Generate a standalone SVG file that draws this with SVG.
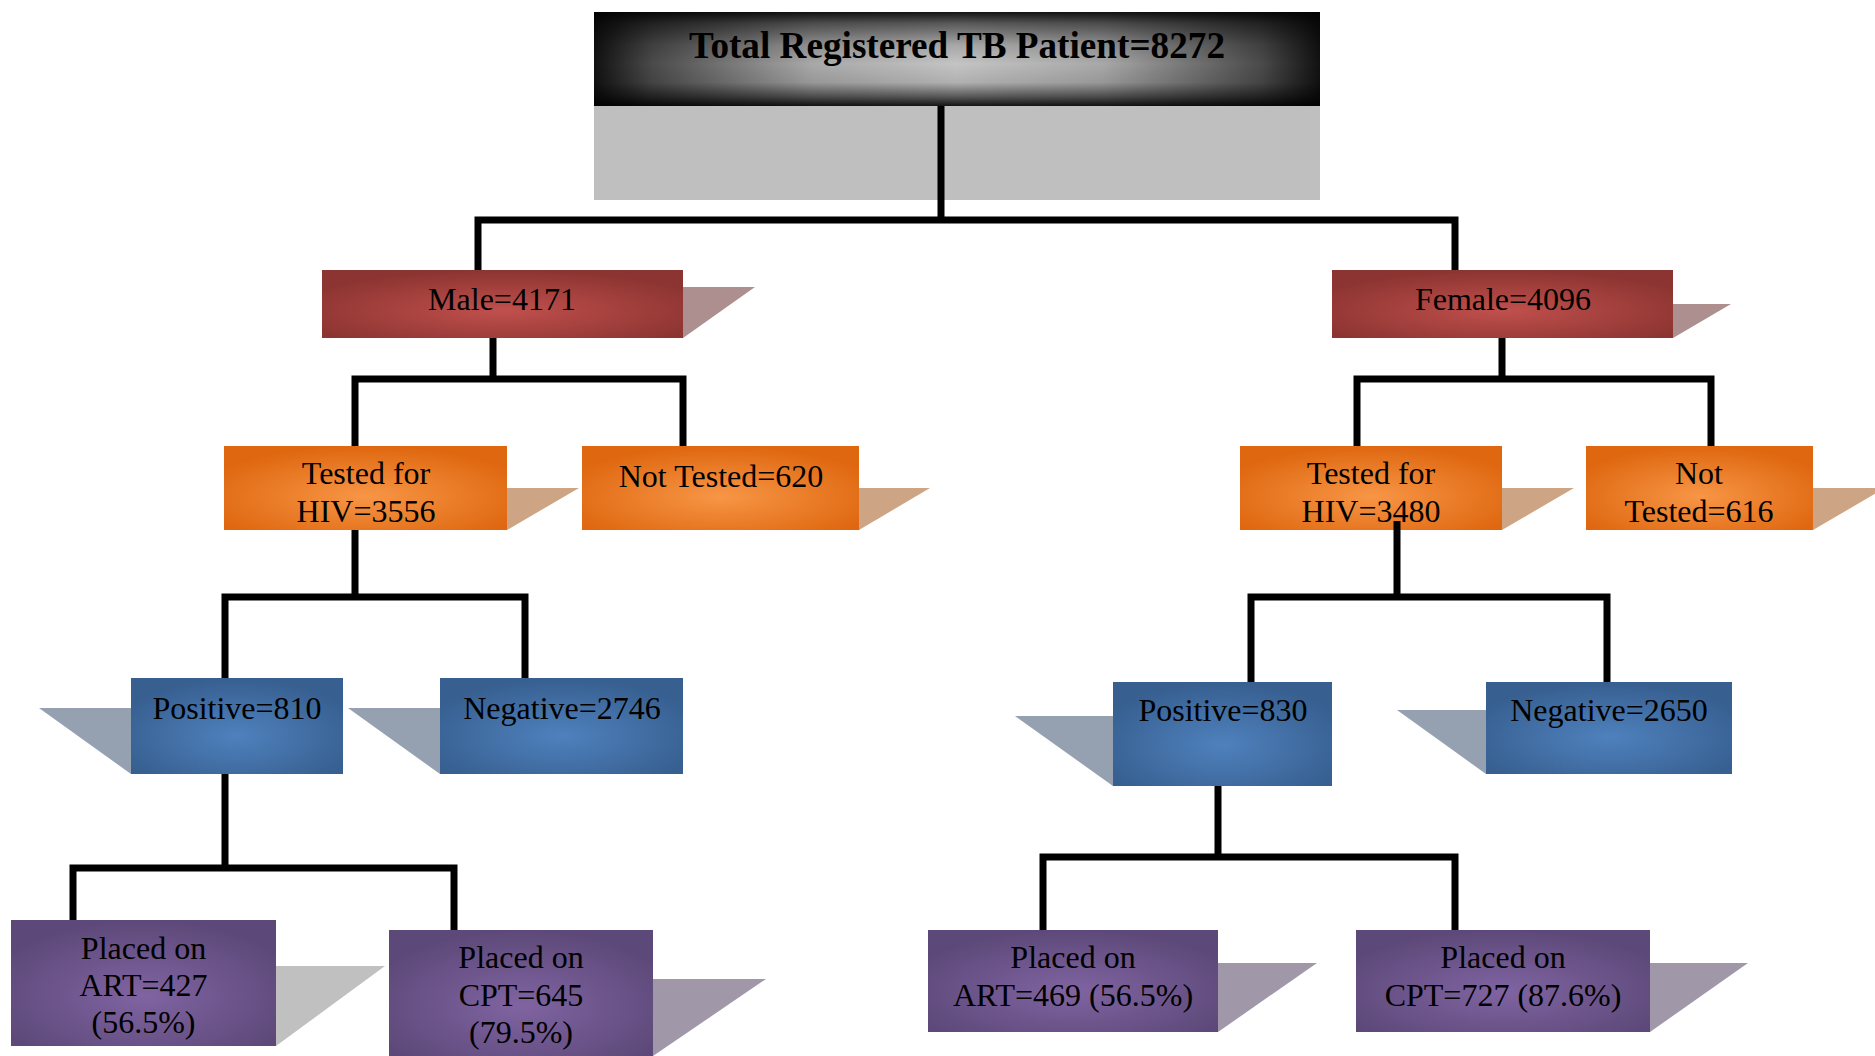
<svg xmlns="http://www.w3.org/2000/svg" width="1875" height="1056" viewBox="0 0 1875 1056">
<style>
text{font-family:"Liberation Serif","Times New Roman",serif;font-size:32px;fill:#000;text-anchor:middle}
.title{font-weight:bold;font-size:38px}
.conn{fill:none;stroke:#000;stroke-width:7;stroke-linejoin:miter;stroke-linecap:butt}
.sh-red{fill:#ae8f8f}.sh-org{fill:#cda584}.sh-blu{fill:#95a1b1}.sh-pur{fill:#a097a9}.sh-gry{fill:#c0c0c0}
.red{fill:url(#gRed)}.org{fill:url(#gOrg)}.blu{fill:url(#gBlu)}.pur{fill:url(#gPur)}
</style>
<defs>
<linearGradient id="gTopH" x1="0" y1="0" x2="1" y2="0">
<stop offset="0" stop-color="#111"/><stop offset="0.08" stop-color="#4a4a4a"/><stop offset="0.3" stop-color="#a8a8a8"/><stop offset="0.5" stop-color="#c4c4c4"/><stop offset="0.7" stop-color="#a8a8a8"/><stop offset="0.92" stop-color="#4a4a4a"/><stop offset="1" stop-color="#111"/>
</linearGradient>
<linearGradient id="gTopV" x1="0" y1="0" x2="0" y2="1">
<stop offset="0" stop-color="#000" stop-opacity="0.9"/><stop offset="0.12" stop-color="#000" stop-opacity="0.55"/><stop offset="0.35" stop-color="#000" stop-opacity="0.15"/><stop offset="0.55" stop-color="#000" stop-opacity="0"/><stop offset="0.75" stop-color="#000" stop-opacity="0.1"/><stop offset="0.9" stop-color="#000" stop-opacity="0.55"/><stop offset="1" stop-color="#000" stop-opacity="0.9"/>
</linearGradient>
<radialGradient id="gRed" cx="0.5" cy="0.6" r="0.6">
<stop offset="0" stop-color="#c0504d"/><stop offset="1" stop-color="#8c3431"/>
</radialGradient>
<radialGradient id="gOrg" cx="0.5" cy="0.6" r="0.6">
<stop offset="0" stop-color="#f79646"/><stop offset="1" stop-color="#df6710"/>
</radialGradient>
<radialGradient id="gBlu" cx="0.5" cy="0.6" r="0.6">
<stop offset="0" stop-color="#4f81bd"/><stop offset="1" stop-color="#375f90"/>
</radialGradient>
<radialGradient id="gPur" cx="0.5" cy="0.6" r="0.6">
<stop offset="0" stop-color="#8064a2"/><stop offset="1" stop-color="#5d4979"/>
</radialGradient>
</defs>

<g id="node-total">
<rect x="594" y="12" width="726" height="94" fill="url(#gTopH)"/>
<rect x="594" y="12" width="726" height="94" fill="url(#gTopV)"/>
<rect x="594" y="106" width="726" height="94" fill="#bfbfbf"/>
<text class="title" x="957" y="58" textLength="536" lengthAdjust="spacingAndGlyphs">Total Registered TB Patient=8272</text>
</g>

<g id="node-male">
<polygon class="sh-red" points="683,287 755,287 683,338"/>
<rect class="red" x="322" y="270" width="361" height="68"/>
<text x="502" y="310">Male=4171</text>
</g>
<g id="node-female">
<polygon class="sh-red" points="1673,304 1731,304 1673,338"/>
<rect class="red" x="1332" y="270" width="341" height="68"/>
<text x="1503" y="310">Female=4096</text>
</g>

<g id="node-m-tested">
<polygon class="sh-org" points="507,488 579,488 507,530"/>
<rect class="org" x="224" y="446" width="283" height="84"/>
<text x="366" y="484">Tested for</text>
<text x="366" y="522">HIV=3556</text>
</g>
<g id="node-m-nottested">
<polygon class="sh-org" points="859,488 930,488 859,530"/>
<rect class="org" x="582" y="446" width="277" height="84"/>
<text x="721" y="487">Not Tested=620</text>
</g>
<g id="node-f-tested">
<polygon class="sh-org" points="1502,488 1574,488 1502,530"/>
<rect class="org" x="1240" y="446" width="262" height="84"/>
<text x="1371" y="484">Tested for</text>
<text x="1371" y="522">HIV=3480</text>
</g>
<g id="node-f-nottested">
<polygon class="sh-org" points="1813,488 1885,488 1813,530"/>
<rect class="org" x="1586" y="446" width="227" height="84"/>
<text x="1699" y="484">Not</text>
<text x="1699" y="522">Tested=616</text>
</g>

<g id="node-m-pos">
<polygon class="sh-blu" points="131,708 39,708 131,774"/>
<rect class="blu" x="131" y="678" width="212" height="96"/>
<text x="237" y="719">Positive=810</text>
</g>
<g id="node-m-neg">
<polygon class="sh-blu" points="440,708 348,708 440,774"/>
<rect class="blu" x="440" y="678" width="243" height="96"/>
<text x="562" y="719">Negative=2746</text>
</g>
<g id="node-f-pos">
<polygon class="sh-blu" points="1113,716 1015,716 1113,786"/>
<rect class="blu" x="1113" y="682" width="219" height="104"/>
<text x="1223" y="721">Positive=830</text>
</g>
<g id="node-f-neg">
<polygon class="sh-blu" points="1486,710 1397,710 1486,774"/>
<rect class="blu" x="1486" y="682" width="246" height="92"/>
<text x="1609" y="721">Negative=2650</text>
</g>

<g id="node-m-art">
<polygon class="sh-gry" points="276,966 385,966 276,1046"/>
<rect class="pur" x="11" y="920" width="265" height="126"/>
<text x="143.5" y="959">Placed on</text>
<text x="143.5" y="996">ART=427</text>
<text x="143.5" y="1033">(56.5%)</text>
</g>
<g id="node-m-cpt">
<polygon class="sh-pur" points="653,979 766,979 653,1056"/>
<rect class="pur" x="389" y="930" width="264" height="126"/>
<text x="521" y="968">Placed on</text>
<text x="521" y="1006">CPT=645</text>
<text x="521" y="1043">(79.5%)</text>
</g>
<g id="node-f-art">
<polygon class="sh-pur" points="1218,963 1317,963 1218,1032"/>
<rect class="pur" x="928" y="930" width="290" height="102"/>
<text x="1073" y="968">Placed on</text>
<text x="1073" y="1006">ART=469 (56.5%)</text>
</g>
<g id="node-f-cpt">
<polygon class="sh-pur" points="1650,963 1748,963 1650,1032"/>
<rect class="pur" x="1356" y="930" width="294" height="102"/>
<text x="1503" y="968">Placed on</text>
<text x="1503" y="1006">CPT=727 (87.6%)</text>
</g>

<g id="connectors">
<path class="conn" d="M941,106 V220 M478,270 V220 H1455 V270"/>
<path class="conn" d="M493,338 V379 M355,446 V379 H683 V446"/>
<path class="conn" d="M1502,338 V379 M1357,446 V379 H1711 V446"/>
<path class="conn" d="M355,530 V597 M225,678 V597 H525 V678"/>
<path class="conn" d="M1397,521 V597 M1251,682 V597 H1607 V682"/>
<path class="conn" d="M225,774 V868 M73,920 V868 H454 V930"/>
<path class="conn" d="M1218,786 V857 M1043,930 V857 H1455 V930"/>
</g>
</svg>
